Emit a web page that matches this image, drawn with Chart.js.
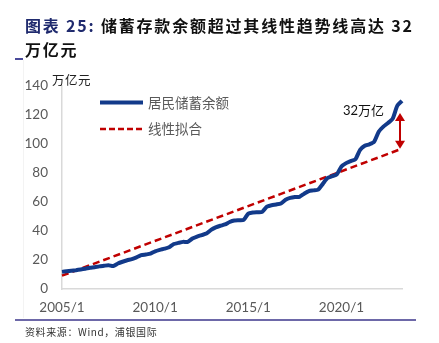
<!DOCTYPE html>
<html>
<head>
<meta charset="utf-8">
<script src="https://cdn.jsdelivr.net/npm/chart.js@4.4.1/dist/chart.umd.min.js"></script>
<style>
  html, body { margin: 0; padding: 0; background: #fff; }
  #wrap { position: relative; width: 439px; height: 343px; overflow: hidden; background: #fff; }
  #chart { position: absolute; left: 0; top: 0; }
  .title { position: absolute; left: 25px; font-family: "Noto Sans CJK SC", sans-serif; font-weight: bold;
           font-size: 16px; letter-spacing: 1.8px; color: #111; white-space: nowrap; line-height: 20px; }
  .title .lead { color: #1f2a6e; }
  #t1 { top: 15px; }
  #t2 { top: 39px; }
  #mark { position: absolute; left: 15px; top: 58px; width: 8px; height: 1.5px; background: #4a4a9a; }
  #vline { position: absolute; left: 23px; top: 60px; width: 1px; height: 258px; background: #f3f3f3; }
  #unit { position: absolute; left: 52px; top: 71px; font-family: "Noto Sans CJK SC", sans-serif;
          font-size: 12.5px; color: #222; line-height: 18px; letter-spacing: 0.5px; }
  #rule { position: absolute; left: 15px; top: 319px; width: 401px; height: 1.6px; background: #6d68a8; }
  #src { position: absolute; left: 25px; top: 325px; font-family: "Noto Sans CJK SC", sans-serif;
         font-size: 10px; color: #333; line-height: 14px; letter-spacing: 0.6px; }
</style>
</head>
<body>
<div id="wrap">
  <canvas id="chart" width="439" height="343"></canvas>
  <div id="vline"></div>
  <div class="title" id="t1"><span class="lead">图表 25:</span> 储蓄存款余额超过其线性趋势线高达 32</div>
  <div class="title" id="t2">万亿元</div>
  <div id="mark"></div>
  <div id="unit">万亿元</div>
  <div id="rule"></div>
  <div id="src">资料来源：Wind，浦银国际</div>
</div>
<script>
// Quarterly observation dates (year/month)
const periods = [
  '2005/1','2005/4','2005/7','2005/10',
  '2006/1','2006/4','2006/7','2006/10',
  '2007/1','2007/4','2007/7','2007/10',
  '2008/1','2008/4','2008/7','2008/10',
  '2009/1','2009/4','2009/7','2009/10',
  '2010/1','2010/4','2010/7','2010/10',
  '2011/1','2011/4','2011/7','2011/10',
  '2012/1','2012/4','2012/7','2012/10',
  '2013/1','2013/4','2013/7','2013/10',
  '2014/1','2014/4','2014/7','2014/10',
  '2015/1','2015/4','2015/7','2015/10',
  '2016/1','2016/4','2016/7','2016/10',
  '2017/1','2017/4','2017/7','2017/10',
  '2018/1','2018/4','2018/7','2018/10',
  '2019/1','2019/4','2019/7','2019/10',
  '2020/1','2020/4','2020/7','2020/10',
  '2021/1','2021/4','2021/7','2021/10',
  '2022/1','2022/4','2022/7','2022/10',
  '2023/1','2023/4'
];

// Household savings balance, 万亿元
const savings = [
  11.8, 12.2, 12.6, 13.0,
  13.5, 14.0, 14.6, 15.0,
  15.6, 16.0, 16.4, 15.8,
  17.6, 18.8, 19.8, 20.6,
  21.8, 23.3, 23.8, 24.4,
  26.0, 27.0, 27.8, 28.8,
  31.0, 31.8, 32.5, 32.5,
  34.8, 36.2, 37.2, 38.2,
  40.8, 42.5, 43.6, 44.5,
  46.2, 47.2, 47.4, 47.6,
  52.0, 52.8, 53.0, 53.2,
  56.8, 57.8, 58.3, 59.0,
  61.5, 62.8, 63.4, 63.6,
  65.7, 67.5, 68.0, 68.6,
  72.5, 76.5, 77.8, 79.0,
  84.5, 86.8, 88.2, 89.5,
  96.0, 98.8, 99.8, 101.5,
  108.5, 112.0, 114.5, 117.5,
  126.5, 129.7
];

// Linear-fit endpoints (straight line between first and last period)
const trendStart = 9.2;
const trendEnd = 96.8;
const trend = [
  { x: '2005/1', y: trendStart },
  { x: '2023/4', y: trendEnd }
];

// Labelled periods on the date axis and value axis ticks
const shownPeriods = ['2005/1', '2010/1', '2015/1', '2020/1'];
const yTicks = [0, 20, 40, 60, 80, 100, 120, 140];

// Gap annotation text
const gapLabel = '32万亿';

const NAVY = '#123a8a';
const RED = '#c00000';
const GRAY = '#595959';

const overlay = {
  id: 'overlay',
  afterDatasetsDraw(chart) {
    const ctx = chart.ctx;
    const xs = chart.scales.x, ys = chart.scales.y;
    ctx.save();

    // Legend drawn inside the plot
    ctx.lineCap = 'butt';
    ctx.strokeStyle = NAVY; ctx.lineWidth = 4;
    ctx.beginPath(); ctx.moveTo(100, 102.5); ctx.lineTo(143, 102.5); ctx.stroke();
    ctx.strokeStyle = RED; ctx.lineWidth = 2.5; ctx.setLineDash([6, 3]);
    ctx.beginPath(); ctx.moveTo(100, 129); ctx.lineTo(143, 129); ctx.stroke();
    ctx.setLineDash([]);
    ctx.fillStyle = GRAY;
    ctx.font = '13.5px "Noto Sans CJK SC", sans-serif';
    ctx.textBaseline = 'middle'; ctx.textAlign = 'left';
    ctx.fillText('居民储蓄余额', 148, 102.5);
    ctx.fillText('线性拟合', 148, 129);

    // Double-headed arrow between the trend end and the savings curve
    const last = periods.length - 1;
    const ax = xs.getPixelForValue(last) - 2;
    const yBottom = ys.getPixelForValue(trendEnd);
    const yTop = ys.getPixelForValue(savings[last]) + 12;
    const head = 7, hw = 5;
    ctx.strokeStyle = RED; ctx.fillStyle = RED; ctx.lineWidth = 2;
    ctx.beginPath(); ctx.moveTo(ax, yTop + head); ctx.lineTo(ax, yBottom - head); ctx.stroke();
    ctx.beginPath(); ctx.moveTo(ax, yTop); ctx.lineTo(ax - hw, yTop + head + 1); ctx.lineTo(ax + hw, yTop + head + 1); ctx.closePath(); ctx.fill();
    ctx.beginPath(); ctx.moveTo(ax, yBottom); ctx.lineTo(ax - hw, yBottom - head - 1); ctx.lineTo(ax + hw, yBottom - head - 1); ctx.closePath(); ctx.fill();

    // Gap label
    ctx.fillStyle = '#111';
    ctx.font = '13px "Lato", "Noto Sans CJK SC", sans-serif';
    ctx.textAlign = 'right';
    ctx.fillText(gapLabel, 384, 111);
    ctx.restore();
  }
};

new Chart(document.getElementById('chart'), {
  type: 'line',
  data: {
    labels: periods,
    datasets: [
      {
        label: '居民储蓄余额',
        data: savings,
        borderColor: NAVY,
        borderWidth: 4,
        pointRadius: 0,
        tension: 0.2,
        order: 1
      },
      {
        label: '线性拟合',
        data: trend,
        borderColor: RED,
        borderWidth: 2.5,
        borderDash: [7, 4],
        pointRadius: 0,
        order: 2
      }
    ]
  },
  options: {
    responsive: false,
    animation: false,
    events: [],
    layout: { padding: { left: 0, top: 86, right: 37, bottom: 0 } },
    plugins: { legend: { display: false }, tooltip: { enabled: false } },
    scales: {
      x: {
        type: 'category',
        offset: false,
        grid: { display: false, drawTicks: false },
        border: { display: true, color: '#d9d9d9', width: 1.5 },
        ticks: {
          autoSkip: false,
          maxRotation: 0,
          padding: 11,
          color: GRAY,
          font: { family: 'Lato', size: 13.5 },
          callback: function (v) {
            const lab = this.getLabelForValue(v);
            return shownPeriods.includes(lab) ? lab : '';
          }
        },
        afterFit(scale) { scale.height = 343 - 289; }
      },
      y: {
        min: 0,
        max: 140,
        afterBuildTicks(scale) { scale.ticks = yTicks.map(v => ({ value: v })); },
        grid: { display: false, drawTicks: false },
        border: { display: true, color: '#d9d9d9', width: 1.5 },
        ticks: {
          padding: 14,
          color: GRAY,
          font: { family: 'Lato', size: 13.5 }
        },
        afterFit(scale) { scale.width = 62; }
      }
    }
  },
  plugins: [overlay]
});
</script>
</body>
</html>
